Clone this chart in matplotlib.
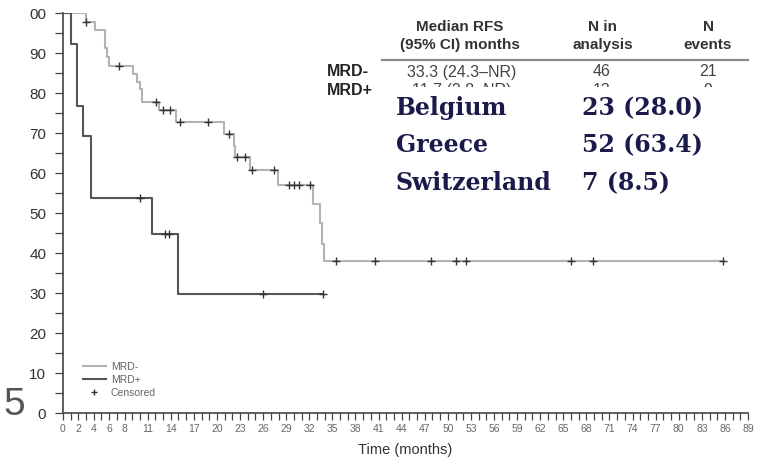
import matplotlib
matplotlib.use("Agg")
import matplotlib.pyplot as plt
import numpy as np
from matplotlib.lines import Line2D
from matplotlib.transforms import Bbox

plt.rcParams["font.family"] = ["Liberation Sans", "DejaVu Sans"]

# Kaplan-Meier steps (months, % relapse-free)
neg_times = [0, 3.0, 4.1, 5.4, 5.7, 6.0, 9.1, 9.65, 10.0, 10.2, 12.5, 14.7,
             20.95, 22.25, 22.4, 24.3, 27.9, 32.5, 33.4, 33.6, 33.95]
neg_surv = [100, 97.9, 95.7, 91.3, 89.1, 86.9, 84.8, 82.9, 81.0, 77.8, 75.8, 72.8,
            69.8, 66.9, 64.0, 60.9, 57.1, 52.4, 47.6, 42.2, 38.0]
neg_censor = [3.0, 7.3, 12.1, 12.95, 13.9, 15.2, 18.9, 21.6, 22.6, 23.7, 24.5,
              27.45, 29.3, 30.0, 30.65, 32.1, 35.5, 40.5, 47.8, 51.0, 52.4,
              66.0, 68.9, 85.7]
neg_end = 85.7

pos_times = [0, 1.1, 1.8, 2.6, 3.7, 11.6, 14.9]
pos_surv = [100, 92.3, 76.9, 69.2, 53.8, 44.9, 29.9]
pos_censor = [10.0, 13.25, 13.8, 26.0, 33.8]
pos_end = 33.8

x_labels = [0, 2, 4, 6, 8] + list(range(11, 90, 3))
y_ticks = [0, 10, 20, 30, 40, 50, 60, 70, 80, 90, 100]
y_labels = ["0", "10", "20", "30", "40", "50", "60", "70", "80", "90", "00"]

table_header = [("Median RFS\n(95% CI) months", 460), ("N in\nanalysis", 603), ("N\nevents", 708)]
table_groups = ["MRD-", "MRD+"]
table_rows = [["33.3 (24.3\u2013NR)", "46", "21"], ["11.7 (2.8\u2013NR)", "13", "9"]]
countries = ["Belgium", "Greece", "Switzerland"]
country_counts = ["23 (28.0)", "52 (63.4)", "7 (8.5)"]

W, H = 760, 459
fig = plt.figure(figsize=(W / 100, H / 100), dpi=100)
ax = fig.add_axes([63 / W, (H - 413.3) / H, 685 / W, 400 / H])


def step_curve(times, surv, end):
    return times + [end], surv + [surv[-1]]


def censor_levels(times, surv, cens):
    idx = np.searchsorted(times, cens, side="right") - 1
    return np.array(surv)[idx]


for times, surv, cens, end, color in [
    (neg_times, neg_surv, neg_censor, neg_end, "#b3b3b3"),
    (pos_times, pos_surv, pos_censor, pos_end, "#555555"),
]:
    xs, ys = step_curve(times, surv, end)
    ax.plot(xs, ys, drawstyle="steps-post", color=color, lw=1.5)
    ax.plot(cens, censor_levels(times, surv, cens), ls="none", marker="+",
            ms=6, mew=1.0, color="#333333")

ax.set_xlim(0, 89)
ax.set_ylim(0, 100)
for s in ["top", "right"]:
    ax.spines[s].set_visible(False)
for s in ["left", "bottom"]:
    ax.spines[s].set_color("#444444")
    ax.spines[s].set_linewidth(1.2)

ax.set_xticks(range(0, 90))
ax.set_xticklabels([str(v) if v in x_labels else "" for v in range(0, 90)],
                   fontsize=7.5, color="#666666")
ax.tick_params(axis="x", length=5, width=0.9, color="#444444", pad=3)
ax.set_yticks(y_ticks)
ax.set_yticklabels(y_labels, fontsize=11, color="#333333")
ax.set_yticks(range(5, 100, 10), minor=True)
ax.tick_params(axis="y", which="both", length=6, width=0.9, color="#444444", pad=6)
ax.set_xlabel("Time (months)", fontsize=10.5, color="#333333", labelpad=6)

handles = [
    Line2D([], [], color="#b3b3b3", lw=1.5),
    Line2D([], [], color="#555555", lw=1.5),
    Line2D([], [], ls="none", marker="+", ms=5, color="#333333"),
]
ax.legend(handles, ["MRD-", "MRD+", "Censored"], loc="lower left",
          bbox_to_anchor=(0.015, 0.015), frameon=False, fontsize=7.5,
          labelcolor="#666666", handlelength=2.2, handletextpad=0.5,
          labelspacing=0.3)


def fx(px):
    return px / W


def fy(py):
    return 1 - py / H


# table overlay
for text, x in table_header:
    fig.text(fx(x), fy(36), text, ha="center", va="center", fontsize=11,
             fontweight="bold", color="#333333", linespacing=1.3)
fig.add_artist(Line2D([fx(382), fx(748)], [fy(59.5), fy(59.5)], color="#8a8a8a", lw=1.6))

# the second row is mostly hidden under the country box in the picture
hide_below = Bbox([[0, H - 86.5], [W, H]])
for i, (grp, row) in enumerate(zip(table_groups, table_rows)):
    y = 72 + 18.5 * i
    fig.text(fx(327), fy(y), grp, ha="left", va="center", fontsize=11.5,
             fontweight="bold", color="#222222")
    for text, x in zip(row, [462, 602, 708]):
        t = fig.text(fx(x), fy(y), text, ha="center", va="center", fontsize=11.5,
                     color="#444444")
        if i == 1:
            t.set_clip_box(hide_below)
            t.set_clip_on(True)

for i, (c, n) in enumerate(zip(countries, country_counts)):
    y = 108 + 37.5 * i
    fig.text(fx(396), fy(y), c, ha="left", va="center", fontsize=17,
             family="DejaVu Serif", fontweight="bold", color="#1b1b4b")
    fig.text(fx(582), fy(y), n, ha="left", va="center", fontsize=17,
             family="DejaVu Serif", fontweight="bold", color="#1b1b4b")

fig.text(fx(3), fy(405), "5", ha="left", va="center", fontsize=28,
         color="#555555")

fig.savefig("out.png", dpi=100)
